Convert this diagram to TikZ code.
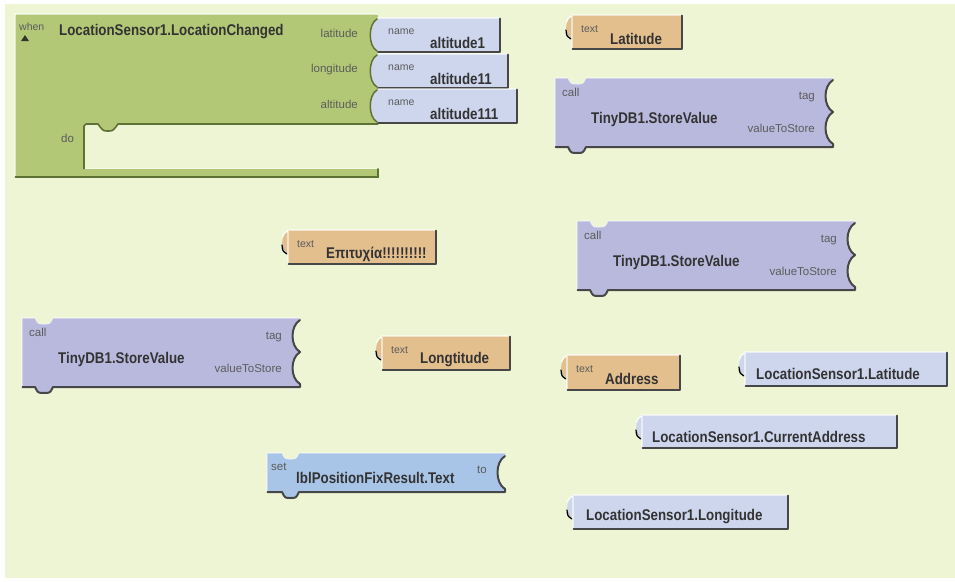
\documentclass[tikz,border=0pt]{standalone}
\usepackage{fontspec}
\setmainfont{Liberation Sans}
\newfontfamily\labfont[FakeStretch=0.86]{Liberation Sans}

\definecolor{canvas}{HTML}{EDF5D4}
\definecolor{evgreen}{HTML}{B2C876}
\definecolor{evdark}{HTML}{5F7236}
\definecolor{calllav}{HTML}{B9B9DE}
\definecolor{namebl}{HTML}{CED6EE}
\definecolor{texttan}{HTML}{E3BF8E}
\definecolor{setblue}{HTML}{A8C4E6}
\definecolor{ink}{HTML}{333333}
\definecolor{shade}{HTML}{474747}

\tikzset{
  big/.style={font=\labfont\bfseries\fontsize{15.5}{16}\selectfont, text=ink, inner sep=0pt},
  small/.style={font=\fontsize{11.5}{12}\selectfont, text=ink!80, inner sep=0pt},
  tiny/.style={font=\fontsize{10.5}{11}\selectfont, text=ink!80, inner sep=0pt},
  shadowline/.style={draw=shade, line width=2pt, line join=round, line cap=round},
  lightline/.style={draw=white, draw opacity=0.55, line width=1.1pt, line join=round},
}

% output plug on the left of a free-standing value block
\newcommand\plugshape[1]{%
  \fill[#1] (0.5,1) .. controls (-8,5) and (-8,21) .. (0.5,25) -- cycle;
  \draw[shade, line width=1.2pt, line cap=round] (-6,15) .. controls (-5.5,21) .. (-1,24);
  \draw[white, line width=1pt, line cap=round] (0,1.2) .. controls (-4,3) .. (-5.6,7);
}
\newcommand\bodyshade[2]{%
  \draw[lightline] (0,#2) -- (0,0) -- (#1,0);
  \draw[shadowline] (0.5,#2) -- (#1,#2) -- (#1,0.5);
}

% text block: id, x1, y1, x2, y2, value
\newcommand\txtblk[6]{%
  \begin{scope}[shift={(#2,#3)}]
    \pgfmathsetmacro\bw{#4-#2}\pgfmathsetmacro\bh{#5-#3}
    \plugshape{texttan}
    \fill[texttan] (0,0) rectangle (\bw,\bh);
    \bodyshade{\bw}{\bh}
    \node[tiny, anchor=west] (#1-kind) at (9,14) {text};
    \node[big, anchor=west] (#1-val) at (38,24) {#6};
  \end{scope}}

% component getter block: id, x1, y1, x2, y2, label, label offset
\newcommand\getblk[7]{%
  \begin{scope}[shift={(#2,#3)}]
    \pgfmathsetmacro\bw{#4-#2}\pgfmathsetmacro\bh{#5-#3}
    \plugshape{namebl}
    \fill[namebl] (0,0) rectangle (\bw,\bh);
    \bodyshade{\bw}{\bh}
    \node[big, anchor=west] (#1) at (#7,22) {#6};
  \end{scope}}

% argument name block seated in a socket: id, x1, y1, x2, value
\newcommand\nameblk[5]{%
  \begin{scope}[shift={(#2,#3)}]
    \pgfmathsetmacro\bw{#4-#2}
    \fill[namebl] (0.5,0) .. controls (-10,6) and (-10,28) .. (0.5,34) -- cycle;
    \fill[namebl] (0,0) rectangle (\bw,34);
    \draw[lightline] (0,0) -- (\bw,0);
    \draw[shadowline] (0,34) -- (\bw,34) -- (\bw,0.5);
    \node[tiny, anchor=west] (#1-kind) at (10,14) {name};
    \node[big, anchor=west] (#1-val) at (52,25) {#5};
  \end{scope}}

% TinyDB1.StoreValue call block at x, y
\newcommand\callblk[3]{%
  \begin{scope}[shift={(#2,#3)}]
    \fill[calllav] (0,0) -- (13,0) .. controls (16,6) .. (22,6) .. controls (28,6) .. (31,0)
      -- (278,0) -- (278,2) .. controls (268,8) and (268,28) .. (278,34)
      .. controls (268,40) and (268,60) .. (278,66) -- (278,69) -- (31,69)
      .. controls (28,75) .. (22,75) .. controls (16,75) .. (13,69) -- (0,69) -- cycle;
    \draw[lightline] (0,69) -- (0,0) -- (13,0) .. controls (16,6) .. (22,6)
      .. controls (28,6) .. (31,0) -- (278,0);
    \draw[shadowline] (278,2) .. controls (268,8) and (268,28) .. (278,34)
      .. controls (268,40) and (268,60) .. (278,66) -- (278,69) -- (31,69)
      .. controls (28,75) .. (22,75) .. controls (16,75) .. (13,69) -- (0.5,69);
    \node[small, anchor=west] (#1-kind) at (7,14) {call};
    \node[big, anchor=west] (#1-name) at (36,41) {TinyDB1.StoreValue};
    \node[small, anchor=east] (#1-tag) at (260,19) {tag};
    \node[small, anchor=east] (#1-value) at (260,50) {valueToStore};
  \end{scope}}

\begin{document}
\begin{tikzpicture}[x=1pt, y=-1pt]
\useasboundingbox (0,0) rectangle (955,581);
\fill[white] (0,0) rectangle (955,581);
\fill[canvas] (5,4) rectangle (955,578);

% ---- event handler: when LocationSensor1.LocationChanged ----
\fill[evgreen, rounded corners=1.5pt] (15,14) -- (378,14) -- (378,18)
  .. controls (368,24) and (368,46) .. (378,52) -- (378,54)
  .. controls (368,60) and (368,82) .. (378,88) -- (378,89)
  .. controls (368,95) and (368,117) .. (378,123) -- (378,124)
  -- (118,124) .. controls (113,131) .. (108,131) .. controls (103,131) .. (98,124)
  -- (84,124) -- (84,169) -- (378,169) -- (378,177) -- (15,177) -- cycle;
\draw[lightline] (15,177) -- (15,14) -- (378,14);
\draw[evdark, line width=1.6pt, line join=round] (378,124) -- (118,124)
  .. controls (113,131) .. (108,131) .. controls (103,131) .. (98,124)
  -- (86,124) -- (84,126) -- (84,169);
\draw[white, opacity=0.4, line width=1pt] (85,168) -- (378,168);
\draw[evdark, line width=2pt, line cap=round] (15.5,177) -- (378,177) -- (378,169);

\node[tiny, anchor=west] (whenlbl) at (19,27) {when};
\fill[ink] (21,41) -- (29,41) -- (25,35) -- cycle;
\node[big, anchor=west] (evname) at (59,32) {LocationSensor1.LocationChanged};
\node[small, anchor=east] (arglat) at (358,33) {latitude};
\node[small, anchor=east] (arglon) at (358,70) {longitude};
\node[small, anchor=east] (argalt) at (358,104) {altitude};
\node[small, anchor=west] (dolbl) at (61,138) {do};

\nameblk{pa}{378}{18}{500}{altitude1}
\nameblk{pb}{378}{54}{508}{altitude11}
\nameblk{pc}{378}{89}{517}{altitude111}
\foreach \t in {18,54,89}{
  \draw[evdark, line width=1.5pt, line cap=round]
    (377,\t+1) .. controls (368,\t+6) and (368,\t+28) .. (377,\t+33);
}

% ---- text blocks ----
\txtblk{tlat}{572}{15}{682}{49}{Latitude}
\txtblk{tok}{288}{230}{436}{264}{Επιτυχία!!!!!!!!!!}
\txtblk{tlon}{382}{336}{510}{370}{Longtitude}
\txtblk{taddr}{567}{355}{680}{390}{Address}

% ---- TinyDB1.StoreValue calls ----
\callblk{cA}{555}{78}
\callblk{cB}{577}{221}
\callblk{cC}{22}{318}

% ---- set lblPositionFixResult.Text to ----
\begin{scope}[shift={(267,453)}]
  \fill[setblue] (0,0) -- (15,0) .. controls (18,6) .. (23.5,6) .. controls (29,6) .. (32,0)
    -- (238,0) -- (238,3) .. controls (228,9) and (228,30) .. (238,36) -- (238,39)
    -- (32,39) .. controls (29,45) .. (23.5,45) .. controls (18,45) .. (15,39) -- (0,39) -- cycle;
  \draw[lightline] (0,39) -- (0,0) -- (15,0) .. controls (18,6) .. (23.5,6)
    .. controls (29,6) .. (32,0) -- (238,0);
  \draw[shadowline] (238,3) .. controls (228,9) and (228,30) .. (238,36) -- (238,39)
    -- (32,39) .. controls (29,45) .. (23.5,45) .. controls (18,45) .. (15,39) -- (0.5,39);
  \node[small, anchor=west] (setkind) at (4,14) {set};
  \node[big, anchor=west] (setname) at (29,25) {lblPositionFixResult.Text};
  \node[small, anchor=east] (setto) at (220,17) {to};
\end{scope}

% ---- LocationSensor1 getters ----
\getblk{glat}{745}{352}{947}{386}{LocationSensor1.Latitude}{11}
\getblk{gaddr}{642}{415}{897}{448}{LocationSensor1.CurrentAddress}{10}
\getblk{glon}{573}{495}{788}{529}{LocationSensor1.Longitude}{13}

\end{tikzpicture}
\end{document}
